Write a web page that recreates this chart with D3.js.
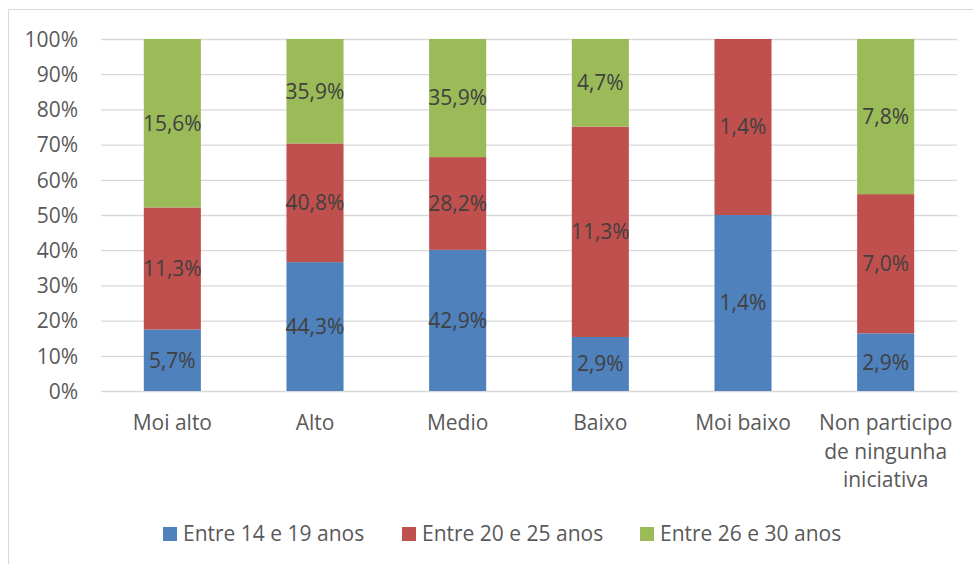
<!DOCTYPE html>
<html>
<head>
<meta charset="utf-8">
<script src="https://cdn.jsdelivr.net/npm/d3@7"></script>
<style>
  html, body { margin: 0; padding: 0; background: #fff; }
  svg { display: block; }
  text { font-family: "Open Sans", "Liberation Sans", sans-serif; }
</style>
</head>
<body>
<svg id="chart" width="973" height="564"></svg>
<script>
const categories = ["Moi alto", "Alto", "Medio", "Baixo", "Moi baixo", "Non participo de ningunha iniciativa"];
const categoryLines = [["Moi alto"], ["Alto"], ["Medio"], ["Baixo"], ["Moi baixo"], ["Non participo", "de ningunha", "iniciativa"]];
const seriesNames = ["Entre 14 e 19 anos", "Entre 20 e 25 anos", "Entre 26 e 30 anos"];
const seriesColors = ["#4F81BD", "#C0504D", "#9BBB59"];
const values14_19 = [5.7, 44.3, 42.9, 2.9, 1.4, 2.9];
const values20_25 = [11.3, 40.8, 28.2, 11.3, 1.4, 7.0];
const values26_30 = [15.6, 35.9, 35.9, 4.7, 0, 7.8];
const yTicks = [0, 0.1, 0.2, 0.3, 0.4, 0.5, 0.6, 0.7, 0.8, 0.9, 1.0];

const seriesValues = [values14_19, values20_25, values26_30];
const rows = categories.map((c, i) => {
  const r = { category: c };
  seriesNames.forEach((s, k) => r[s] = seriesValues[k][i]);
  return r;
});

const svg = d3.select("#chart");
const W = 973, H = 564;
const plot = { left: 101, right: 957, top: 39, bottom: 391 };
const FS = "21px";

// chart frame (extends beyond right/bottom edges)
svg.append("rect")
  .attr("x", 8.5).attr("y", 9.5)
  .attr("width", W + 20).attr("height", H + 20)
  .attr("fill", "#fff").attr("stroke", "#d9d9d9").attr("stroke-width", 1);

const x = d3.scaleBand().domain(categories).range([plot.left, plot.right])
  .paddingInner(0.6).paddingOuter(0.3);
const y = d3.scaleLinear().domain([0, 1]).range([plot.bottom, plot.top]);

const stack = d3.stack().keys(seriesNames).offset(d3.stackOffsetExpand);
const stacked = stack(rows);

// gridlines + y tick labels
const yAxis = d3.axisLeft(y).tickValues(yTicks).tickFormat(d3.format(".0%")).tickSize(0).tickPadding(0);
const gy = svg.append("g").attr("transform", `translate(${plot.left},0)`).call(yAxis);
gy.select(".domain").remove();
gy.selectAll(".tick line").remove();
gy.selectAll(".tick").append("line")
  .attr("x1", 0).attr("x2", plot.right - plot.left)
  .attr("stroke", "#d9d9d9").attr("stroke-width", 1.3);
gy.selectAll(".tick text")
  .attr("x", -23).attr("dy", "0.35em")
  .attr("fill", "#595959").style("font-size", FS).style("font-family", "\"Open Sans\", sans-serif");

// bars
const layers = svg.append("g").selectAll("g").data(stacked).join("g")
  .attr("fill", (d, i) => seriesColors[i]);
layers.selectAll("rect").data(d => d).join("rect")
  .attr("x", d => x(d.data.category))
  .attr("width", x.bandwidth())
  .attr("y", d => y(d[1]))
  .attr("height", d => Math.max(0, y(d[0]) - y(d[1])));

// data labels
const fmt = v => v.toFixed(1).replace(".", ",") + "%";
stacked.forEach((layer, k) => {
  svg.append("g").selectAll("text").data(layer.filter(d => d[1] - d[0] > 0)).join("text")
    .attr("x", d => x(d.data.category) + x.bandwidth() / 2)
    .attr("y", d => y((d[0] + d[1]) / 2))
    .attr("dy", "0.35em")
    .attr("text-anchor", "middle")
    .attr("fill", "#404040")
    .style("font-size", FS)
    .text(d => fmt(d.data[layer.key]));
});

// x axis labels
const xl = svg.append("g").selectAll("text").data(categories).join("text")
  .attr("x", d => x(d) + x.bandwidth() / 2)
  .attr("y", 423)
  .attr("text-anchor", "middle")
  .attr("fill", "#595959")
  .style("font-size", FS);
xl.each(function(d, i) {
  const t = d3.select(this);
  categoryLines[i].forEach((line, j) => {
    t.append("tspan").attr("x", x(d) + x.bandwidth() / 2)
      .attr("y", 423 + j * 28.5).attr("dy", "0.35em").text(line);
  });
});

// legend
const legendX = [163, 402, 640];
const lg = svg.append("g").selectAll("g").data(seriesNames).join("g")
  .attr("transform", (d, i) => `translate(${legendX[i]},527)`);
lg.append("rect").attr("width", 14).attr("height", 14).attr("fill", (d, i) => seriesColors[i]);
lg.append("text").attr("x", 20).attr("y", 7).attr("dy", "0.35em")
  .attr("fill", "#595959").style("font-size", FS).text(d => d);
</script>
</body>
</html>
